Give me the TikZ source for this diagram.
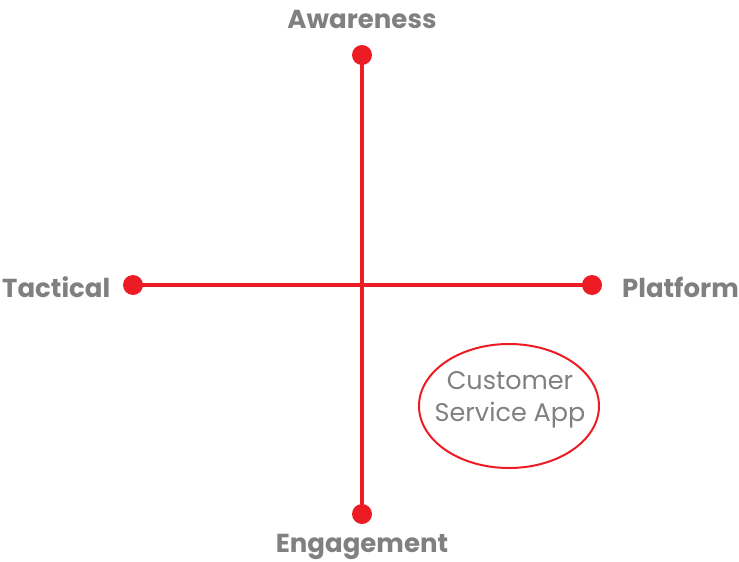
\documentclass[tikz,border=0pt]{standalone}
\usepackage{fontspec}
\usetikzlibrary{shapes.geometric}
\setmainfont{Poppins}
\definecolor{axred}{HTML}{ED1C24}
\definecolor{labgray}{HTML}{808080}
\begin{document}
\begin{tikzpicture}[x=1pt,y=-1pt,
  axis/.style={draw=axred,line width=4pt},
  dot/.style={circle,fill=axred,inner sep=0pt,minimum size=20pt},
  lab/.style={text=labgray,font=\bfseries\fontsize{26}{30}\selectfont,inner sep=0pt},
  oval/.style={ellipse,draw=axred,line width=2pt,minimum width=180pt,minimum height=124pt,inner sep=0pt},
  ovaltext/.style={align=center,text=labgray,inner sep=0pt,font=\fontsize{25.5}{32}\selectfont}]
\useasboundingbox (0,0) rectangle (739,562);
\node[dot] (top) at (362,55) {};
\node[dot] (bot) at (362,514) {};
\node[dot] (left) at (133,285) {};
\node[dot] (right) at (592,285) {};
\draw[axis] (top.center) -- (bot.center);
\draw[axis] (left.center) -- (right.center);
\node[lab] (aw) at (362,19) {Awareness};
\node[lab] (en) at (362,547) {Engagement};
\node[lab,anchor=west] (ta) at (2,287) {Tactical};
\node[lab,anchor=east] (pl) at (739,287) {Platform};
\node[oval] (csa) at (509,406) {};
\node[ovaltext] (csat) at (510,400) {Customer\\Service App};
\end{tikzpicture}
\end{document}
